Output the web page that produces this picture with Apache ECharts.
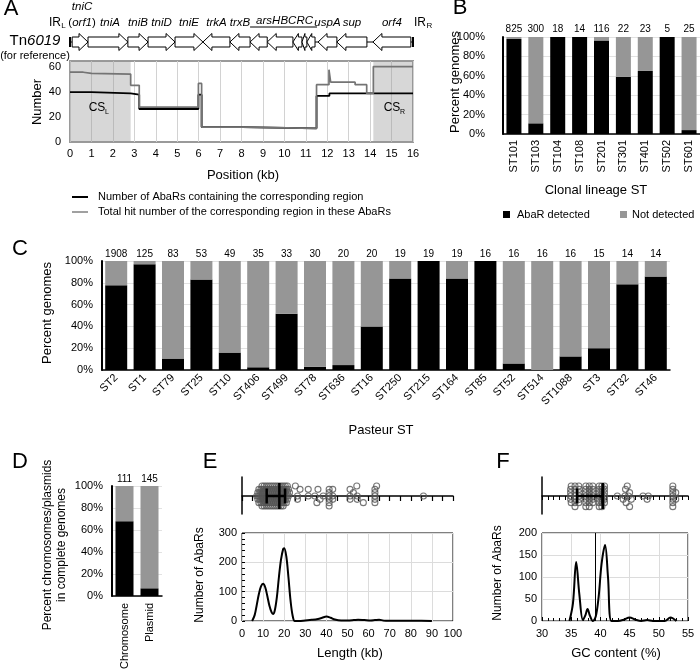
<!DOCTYPE html>
<html><head><meta charset="utf-8">
<script src="https://cdn.jsdelivr.net/npm/echarts/dist/echarts.min.js"></script>
<style>html,body{margin:0;padding:0;background:#fff}#c{width:700px;height:670px}</style>
</head><body><div id="c"></div>
<script>
const FONT = 'Liberation Sans, Arial, Helvetica, sans-serif';

// ---------- Panel A : gene map (kb) ----------
const geneStart  = [0.10, 0.84, 2.70, 3.64, 4.90, 6.20, 7.46, 8.40, 9.20, 10.40, 10.82, 11.05, 11.57, 12.45, 14.13];
const geneEnd    = [0.84, 2.70, 3.64, 4.90, 6.20, 7.46, 8.40, 9.20, 10.40, 10.82, 11.05, 11.43, 12.45, 13.85, 15.90];
const geneStrand = [1, 1, 1, 1, 1, -1, -1, -1, -1, -1, -1, -1, -1, -1, -1];
const geneLabels = ['tniC', 'tniA', 'tniB', 'tniD', 'tniE', 'trkA', 'trxB', '', '', '', '', '', 'uspA', 'sup', 'orf4'];
const arsLabel = 'arsHBCRC';
const arsSpan = [8.40, 11.43];

// ---------- Panel A : coverage step lines ----------
const posCount = [0, 1.0, 2.83, 3.23, 5.99, 6.14, 8.05, 11.5, 12.1, 16];
const numCount = [40, 39, 38, 26.5, 38, 12, 11, 37, 39, 39];
const posHits  = [0, 0.62, 1.0, 2.83, 3.23, 5.99, 6.14, 8.05, 11.5, 12.08, 12.16, 13.3, 13.84, 14.15, 16];
const numHits  = [56, 55, 54.5, 45.5, 28, 47, 12, 11, 46, 58, 48, 46, 39, 60.5, 60.5];
const csLeft  = [0, 2.83];
const csRight = [14.15, 16];

// ---------- Panel B ----------
const bCats = ['ST101', 'ST103', 'ST104', 'ST108', 'ST201', 'ST301', 'ST401', 'ST502', 'ST601'];
const bN    = [825, 300, 18, 14, 116, 22, 23, 5, 25];
const bPct  = [98, 11, 100, 100, 96.5, 59, 65, 100, 4];

// ---------- Panel C ----------
const cCats = ['ST2', 'ST1', 'ST79', 'ST25', 'ST10', 'ST406', 'ST499', 'ST78', 'ST636', 'ST16', 'ST250', 'ST215', 'ST164', 'ST85', 'ST52', 'ST514', 'ST1088', 'ST3', 'ST32', 'ST46'];
const cN    = [1908, 125, 83, 53, 49, 35, 33, 30, 20, 20, 19, 19, 19, 16, 16, 16, 16, 15, 14, 14];
const cPct  = [77.7, 97, 10.5, 83, 16, 2.5, 51.5, 3, 4.5, 40, 84, 100, 84, 100, 6, 0, 12.5, 20, 78.6, 85.7];

// ---------- Panel D ----------
const dCats = ['Chromosome', 'Plasmid'];
const dN    = [111, 145];
const dPct  = [68, 7];

// ---------- Panel E : length ----------
const lenX = [4.8, 6, 7, 8, 9, 10, 11, 12, 13, 14, 14.7, 15.5, 16.5, 17.5, 18.5, 19.5, 20, 21, 22, 23, 24, 25, 27, 30, 33, 36, 38, 40, 42, 44, 47, 50, 53, 55, 58, 61, 63, 65, 67, 70, 75, 80, 85, 90];
const lenY = [0, 20, 55, 92, 118, 127, 115, 85, 52, 30, 24, 35, 80, 150, 210, 245, 248, 220, 150, 70, 18, 0, 0, 2, 4, 7, 11, 15, 11, 5, 2, 2, 3, 4, 3, 2, 3, 4, 2, 1, 0.5, 0.5, 0.5, 0];
const lenRange = [11.7, 20.4];
const lenMid = 17.7;
const lenDotsP3 = [9.5, 10.5, 11.5, 12.5, 13.5, 14.5, 15.5, 16.5, 17.5, 18.5, 19.5, 20.5, 21.5, 25.3, 54.4, 63.8];
const lenDotsP2 = [8, 9, 10, 11, 12, 13, 14, 15, 16, 17, 18, 19, 20, 21, 22, 27.5, 31.4, 36, 41.3, 43, 51.2, 63];
const lenDotsP1 = [7.5, 8.5, 9.5, 10.5, 11.5, 12.5, 13.5, 14.5, 15.5, 16.5, 17.5, 18.5, 19.5, 20.5, 21.5, 22.5, 41.3, 52.8, 63];
const lenDots0  = [7, 8, 9, 10, 11, 12, 13, 14, 15, 16, 17, 18, 19, 20, 21, 22, 26.3, 31.4, 34.5, 38.5, 41.3, 43, 51.2, 54.6, 63, 86];
const lenDotsM1 = [7.5, 8.5, 9.5, 10.5, 11.5, 12.5, 13.5, 14.5, 15.5, 16.5, 17.5, 18.5, 19.5, 20.5, 21.5, 26.3, 37, 41.3, 43, 51.2, 54.6, 63];
const lenDotsM2 = [8, 9, 10, 11, 12, 13, 14, 15, 16, 17, 18, 19, 20, 21, 35.5, 41.3, 57.5, 63];
const lenDotsM3 = [9.5, 10.5, 11.5, 12.5, 13.5, 14.5, 15.5, 16.5, 17.5, 18.5, 19.5, 41.3];

// ---------- Panel F : GC content ----------
const gcX = [34.7, 35.3, 35.85, 36.4, 37.0, 37.4, 37.8, 38.2, 38.7, 39.2, 39.7, 40.2, 40.8, 41.3, 41.9, 43, 44, 45, 46, 47, 48, 49, 51, 52, 53];
const gcY = [0, 40, 134, 60, 2, 12, 27, 12, 0, 10, 55, 130, 173, 100, 0, 0, 3, 8, 3, 0, 2, 0, 0, 8, 0];
const gcRange = [36.0, 40.4];
const gcMid = 40.4;
const gcRefLine = 39.1;
const gcDotsP3 = [35.0, 35.65, 36.3, 37.5, 38.1, 38.7, 39.8, 40.25, 40.7, 44.6, 52.4];
const gcDotsP2 = [34.9, 35.65, 36.4, 37.5, 38.1, 38.7, 39.8, 40.25, 40.7, 44.3, 52.4];
const gcDotsP1 = [34.9, 35.65, 36.4, 37.5, 38.1, 38.7, 39.8, 40.25, 40.7, 45.0, 52.4, 52.9];
const gcDots0  = [34.9, 35.65, 36.4, 37.5, 38.1, 38.7, 39.8, 40.25, 40.7, 42.9, 44.2, 44.8, 47.3, 48.2, 52.4];
const gcDotsM1 = [34.9, 35.65, 36.4, 37.5, 38.1, 38.7, 39.8, 40.25, 40.7, 43.9, 45.3, 48.0, 52.4, 52.9];
const gcDotsM2 = [35.0, 35.65, 36.3, 37.5, 38.1, 38.7, 39.8, 40.25, 40.7, 44.4, 52.4];
const gcDotsM3 = [35.65, 37.5, 38.1, 39.8, 40.25, 45.0, 52.4];

// ---------- helpers ----------
function rows(list) {
  const out = [];
  list.forEach(function (r) { r[0].forEach(function (v) { out.push([v, r[1]]); }); });
  return out;
}
const lenDots = rows([[lenDotsP3, 3], [lenDotsP2, 2], [lenDotsP1, 1], [lenDots0, 0], [lenDotsM1, -1], [lenDotsM2, -2], [lenDotsM3, -3]]);
const gcDots  = rows([[gcDotsP3, 3], [gcDotsP2, 2], [gcDotsP1, 1], [gcDots0, 0], [gcDotsM1, -1], [gcDotsM2, -2], [gcDotsM3, -3.2]]);

const BLACK = '#000000', GREY = '#969696';
const graphics = [];
function txt(text, x, y, size, o) {
  o = o || {};
  graphics.push({
    type: 'text', x: x, y: y, rotation: o.rot || 0, z: 100, silent: true,
    style: {
      text: text, fontSize: size, fontFamily: FONT, fontStyle: o.italic ? 'italic' : 'normal',
      fill: o.color || '#000', align: o.align || 'center', verticalAlign: o.va || 'middle',
      textAlign: o.align || 'center', textVerticalAlign: o.va || 'middle',
      lineHeight: o.lh, rich: o.rich
    }
  });
}
function line(x1, y1, x2, y2, color, w) {
  graphics.push({ type: 'line', z: 100, silent: true, shape: { x1: x1, y1: y1, x2: x2, y2: y2 }, style: { stroke: color, lineWidth: w } });
}
function rect(x, y, w, h, color) {
  graphics.push({ type: 'rect', z: 100, silent: true, shape: { x: x, y: y, width: w, height: h }, style: { fill: color } });
}
const R90 = Math.PI / 2;

// panel letters
txt('A', 11, 9, 22); txt('B', 460, 8, 22); txt('C', 20, 249, 22);
txt('D', 20, 462, 22); txt('E', 210, 462, 22); txt('F', 503, 462, 22);
// panel A texts
txt('{n|Tn}{i|6019}', 35, 41, 15, { rich: { n: { fontSize: 15, fontFamily: FONT }, i: { fontSize: 15, fontFamily: FONT, fontStyle: 'italic' } } });
txt('(for reference)', 35, 56, 11);
txt('IR', 55, 23, 12); txt('L', 63.5, 26, 8);
txt('IR', 420, 23, 12); txt('R', 429.5, 26, 8);
txt('CS', 97, 108, 12); txt('L', 107, 112, 7);
txt('CS', 392, 108, 12); txt('R', 402.5, 112, 7);
txt('Number', 37, 102, 13, { rot: R90 });
txt('Position (kb)', 243, 175, 13);
line(72, 197, 88, 197, '#000', 2);
line(72, 212, 88, 212, '#808080', 1.5);
txt('Number of AbaRs containing the corresponding region', 98, 197, 11, { align: 'left' });
txt('Total hit number of the corresponding region in these AbaRs', 98, 212, 11, { align: 'left' });
// panel B texts
txt('Percent genomes', 455, 82, 13, { rot: R90 });
txt('Clonal lineage ST', 596, 190, 13);
rect(503, 211, 7, 7, BLACK); txt('AbaR detected', 517, 215, 11, { align: 'left' });
rect(620, 211, 7, 7, GREY); txt('Not detected', 632, 215, 11, { align: 'left' });
// panel C texts
txt('Percent genomes', 47, 313, 13, { rot: R90 });
txt('Pasteur ST', 381, 430, 13);
// panel D
txt('Percent chromosomes/plasmids\nin complete genomes', 55, 545, 12, { rot: R90, lh: 14 });
// panel E
txt('Number of AbaRs', 200, 575, 12, { rot: R90 });
txt('Length (kb)', 350, 653, 13);
// panel F
txt('Number of AbaRs', 498, 573, 12, { rot: R90 });
txt('GC content (%)', 616, 653, 13);

// ---------- render functions ----------
function geneRender(params, api) {
  const i = params.dataIndex;
  const s = api.value(0), e = api.value(1), dir = api.value(2);
  const p1 = api.coord([s, 0.5]), p2 = api.coord([e, 0.5]);
  const yc = p1[1], bh = 5, hh = 8.5;
  const x1 = p1[0], x2 = p2[0];
  const hl = Math.min(9, (x2 - x1) * 0.6);
  let pts;
  if (dir > 0) pts = [[x1, yc - bh], [x2 - hl, yc - bh], [x2 - hl, yc - hh], [x2, yc], [x2 - hl, yc + hh], [x2 - hl, yc + bh], [x1, yc + bh]];
  else pts = [[x2, yc - bh], [x1 + hl, yc - bh], [x1 + hl, yc - hh], [x1, yc], [x1 + hl, yc + hh], [x1 + hl, yc + bh], [x2, yc + bh]];
  const children = [{ type: 'polygon', shape: { points: pts }, style: { fill: '#fff', stroke: '#000', lineWidth: 1 } }];
  const lab = geneLabels[i];
  const rich = { i: { fontSize: 11.5, fontFamily: FONT, fontStyle: 'italic', lineHeight: 16 }, n: { fontSize: 11.5, fontFamily: FONT, lineHeight: 16 } };
  if (lab) {
    const t = (i === 0) ? '{i|' + lab + '}\n{n|(}{i|orf1}{n|)}' : '{i|' + lab + '}';
    children.push({
      type: 'text', x: (x1 + x2) / 2 + (i === 0 ? 2 : (i === 1 ? 2 : 0)), y: (i === 0) ? yc - 27 : yc - 19,
      style: { text: t, rich: rich, fontSize: 11.5, fontFamily: FONT, align: 'center', verticalAlign: 'middle', textAlign: 'center', textVerticalAlign: 'middle', fill: '#000' }
    });
  }
  return { type: 'group', children: children };
}
function arsRender(params, api) {
  const a = api.coord([api.value(0), 0.5]), b = api.coord([api.value(1), 0.5]);
  const yc = a[1];
  return {
    type: 'group', children: [
      { type: 'line', shape: { x1: a[0], y1: yc - 15, x2: b[0] + 2, y2: yc - 15 }, style: { stroke: '#000', lineWidth: 1 } },
      { type: 'text', x: (a[0] + b[0]) / 2 + 2, y: yc - 21, style: { text: arsLabel, fontSize: 11.5, fontFamily: FONT, fontStyle: 'italic', fill: '#000', align: 'center', verticalAlign: 'middle', textAlign: 'center', textVerticalAlign: 'middle' } }
    ]
  };
}
function backboneRender(params, api) {
  const a = api.coord([api.value(0), 0.5]), b = api.coord([api.value(1), 0.5]);
  const yc = a[1];
  return {
    type: 'group', children: [
      { type: 'line', shape: { x1: a[0], y1: yc, x2: b[0], y2: yc }, style: { stroke: '#000', lineWidth: 1 } },
      { type: 'line', shape: { x1: a[0], y1: yc - 5, x2: a[0], y2: yc + 5 }, style: { stroke: '#000', lineWidth: 2 } },
      { type: 'line', shape: { x1: b[0], y1: yc - 5, x2: b[0], y2: yc + 5 }, style: { stroke: '#000', lineWidth: 2 } }
    ]
  };
}
function errRender(params, api) {
  const a = api.coord([api.value(0), 0]), b = api.coord([api.value(1), 0]), m = api.coord([api.value(2), 0]);
  const y = a[1];
  const st = { stroke: '#000', lineWidth: 2.5 };
  return {
    type: 'group', children: [
      { type: 'line', shape: { x1: a[0], y1: y, x2: b[0], y2: y }, style: st },
      { type: 'line', shape: { x1: a[0], y1: y - 7.5, x2: a[0], y2: y + 7.5 }, style: st },
      { type: 'line', shape: { x1: b[0], y1: y - 7.5, x2: b[0], y2: y + 7.5 }, style: st },
      { type: 'line', shape: { x1: m[0], y1: y - 13, x2: m[0], y2: y + 13 }, style: st }
    ]
  };
}

function zip(a, b) { return a.map(function (v, i) { return [v, b[i]]; }); }

const grids = [
  { left: 70, top: 33, width: 343, height: 18 },
  { left: 70, top: 61, width: 343, height: 81, show: true, borderColor: '#9a9a9a', borderWidth: 2 },
  { left: 503, top: 37, width: 197, height: 97 },
  { left: 102, top: 261, width: 568, height: 109 },
  { left: 112, top: 486, width: 50, height: 110 },
  { left: 242, top: 477, width: 211, height: 37 },
  { left: 242, top: 533, width: 211, height: 88, show: true, borderColor: '#000', borderWidth: 1 },
  { left: 542, top: 477, width: 146, height: 37 },
  { left: 542, top: 533, width: 146, height: 88, show: true, borderColor: '#000', borderWidth: 1 }
].map(function (g) { g.containLabel = false; g.outerBoundsMode = 'none'; return g; });

const lbl = { fontFamily: FONT, fontSize: 11, color: '#000' };
const noAxis = { show: false };
const gridLine = { show: true, lineStyle: { color: '#dcdcdc', width: 1 } };

function pctAxis(gi, margin) {
  return {
    type: 'value', gridIndex: gi, min: 0, max: 100, interval: 20,
    axisLine: { show: true, lineStyle: { color: '#000', width: 2 } },
    axisTick: { show: false },
    axisLabel: Object.assign({ formatter: '{value}%', margin: margin }, lbl),
    splitLine: { show: true, lineStyle: { color: '#e2e2e2' } }
  };
}
function catAxis(gi, cats, rot, margin) {
  return {
    type: 'category', gridIndex: gi, data: cats,
    axisLine: { show: true, lineStyle: { color: '#000', width: 1.5 } },
    axisTick: { show: false },
    axisLabel: Object.assign({ rotate: rot, interval: 0, margin: margin }, lbl)
  };
}

const xAxis = [
  { type: 'value', gridIndex: 0, min: 0, max: 16, show: false },
  { type: 'value', gridIndex: 1, min: 0, max: 16, interval: 1, axisLine: noAxis, axisTick: noAxis,
    axisLabel: Object.assign({ margin: 6 }, lbl), splitLine: { show: true, lineStyle: { color: '#d2d2d2' } } },
  catAxis(2, bCats, 90, 6),
  catAxis(3, cCats, 45, 6),
  catAxis(4, dCats, 90, 7),
  { type: 'value', gridIndex: 5, min: 0, max: 100, interval: 5,
    axisLine: { show: true, lineStyle: { color: '#000', width: 1.5 } },
    axisTick: { show: true, length: 5, lineStyle: { color: '#000', width: 1.2 } }, axisLabel: noAxis, splitLine: noAxis },
  { type: 'value', gridIndex: 6, min: 0, max: 100, interval: 10, axisLine: noAxis, axisTick: noAxis,
    axisLabel: Object.assign({ margin: 7 }, lbl), splitLine: gridLine },
  { type: 'value', gridIndex: 7, min: 30, max: 55, interval: 1,
    axisLine: { show: true, lineStyle: { color: '#000', width: 1.5 } },
    axisTick: { show: true, length: 4, lineStyle: { color: '#000', width: 1 } }, axisLabel: noAxis, splitLine: noAxis },
  { type: 'value', gridIndex: 8, min: 30, max: 55, interval: 5, axisLine: noAxis,
    axisTick: { show: true, inside: true, length: 4, lineStyle: { color: '#000' } },
    minorTick: { show: true, splitNumber: 5, length: 3, lineStyle: { color: '#000' } },
    axisLabel: Object.assign({ margin: 7 }, lbl), splitLine: gridLine }
];

const yAxis = [
  { type: 'value', gridIndex: 0, min: 0, max: 1, show: false },
  { type: 'value', gridIndex: 1, min: 0, max: 65, interval: 20, axisLine: noAxis, axisTick: noAxis,
    axisLabel: Object.assign({ margin: 9, formatter: function (v) { return v % 20 === 0 ? v : ''; } }, lbl),
    splitLine: noAxis },
  pctAxis(2, 18),
  pctAxis(3, 9),
  pctAxis(4, 9),
  { type: 'value', gridIndex: 5, min: -5.4, max: 5.7, axisLine: { show: true, lineStyle: { color: '#000', width: 1.5 } },
    axisTick: noAxis, axisLabel: noAxis, splitLine: noAxis },
  { type: 'value', gridIndex: 6, min: 0, max: 300, interval: 100, axisLine: noAxis,
    axisTick: { show: true, inside: true, length: 3, lineStyle: { color: '#000' } },
    minorTick: { show: true, splitNumber: 5, length: 3, lineStyle: { color: '#000' } },
    axisLabel: Object.assign({ margin: 5 }, lbl), splitLine: gridLine },
  { type: 'value', gridIndex: 7, min: -5.4, max: 5.7, axisLine: { show: true, lineStyle: { color: '#000', width: 1.5 } },
    axisTick: noAxis, axisLabel: noAxis, splitLine: noAxis },
  { type: 'value', gridIndex: 8, min: 0, max: 200, interval: 50, axisLine: noAxis, axisTick: noAxis,
    axisLabel: Object.assign({ margin: 5 }, lbl), splitLine: gridLine }
];

function stackedBars(ai, pct, counts, bw, dist) {
  return [
    { type: 'bar', xAxisIndex: ai, yAxisIndex: ai, stack: 's' + ai, data: pct, barWidth: bw,
      itemStyle: { color: BLACK }, silent: true },
    { type: 'bar', xAxisIndex: ai, yAxisIndex: ai, stack: 's' + ai, data: pct.map(function (v) { return 100 - v; }), barWidth: bw,
      itemStyle: { color: GREY }, silent: true,
      label: { show: true, position: 'top', distance: dist, fontFamily: FONT, fontSize: 10, color: '#000',
        formatter: function (p) { return String(counts[p.dataIndex]); } } }
  ];
}

const dotStyle = { color: 'rgba(255,255,255,0)', borderColor: '#555555', borderWidth: 1.1 };

const series = [
  { type: 'custom', xAxisIndex: 0, yAxisIndex: 0, renderItem: backboneRender, data: [[0, 16, 0.5]], encode: { x: [0, 1], y: 2 }, clip: false, silent: true, z: 1 },
  { type: 'custom', xAxisIndex: 0, yAxisIndex: 0, renderItem: geneRender,
    data: geneStart.map(function (s, i) { return [s, geneEnd[i], geneStrand[i], 0.5]; }), encode: { x: [0, 1], y: 3 }, clip: false, silent: true, z: 3 },
  { type: 'custom', xAxisIndex: 0, yAxisIndex: 0, renderItem: arsRender, data: [[arsSpan[0], arsSpan[1], 0.5]], encode: { x: [0, 1], y: 2 }, clip: false, silent: true, z: 3 },
  { type: 'line', xAxisIndex: 1, yAxisIndex: 1, step: 'end', data: zip(posCount, numCount), showSymbol: false, symbol: 'none',
    lineStyle: { color: '#000', width: 1.8 }, silent: true, z: 3,
    markArea: { silent: true, itemStyle: { color: 'rgba(150,150,150,0.38)' },
      data: [[{ xAxis: csLeft[0] }, { xAxis: csLeft[1] }], [{ xAxis: csRight[0] }, { xAxis: csRight[1] }]] } },
  { type: 'line', xAxisIndex: 1, yAxisIndex: 1, step: 'end', data: zip(posHits, numHits), showSymbol: false, symbol: 'none',
    lineStyle: { color: '#747474', width: 1.7 }, silent: true, z: 4 }
].concat(stackedBars(2, bPct, bN, 15, 3))
 .concat(stackedBars(3, cPct, cN, 22, 2))
 .concat(stackedBars(4, dPct, dN, 18, 2))
 .concat([
  { type: 'scatter', xAxisIndex: 5, yAxisIndex: 5, data: lenDots, symbol: 'circle', symbolSize: 6, silent: true, itemStyle: dotStyle },
  { type: 'custom', xAxisIndex: 5, yAxisIndex: 5, renderItem: errRender, data: [[lenRange[0], lenRange[1], lenMid, 0]], encode: { x: [0, 1, 2], y: 3 }, clip: false, silent: true, z: 5 },
  { type: 'line', xAxisIndex: 6, yAxisIndex: 6, data: zip(lenX, lenY), smooth: 0.35, showSymbol: false, symbol: 'none',
    lineStyle: { color: '#000', width: 2 }, silent: true },
  { type: 'scatter', xAxisIndex: 7, yAxisIndex: 7, data: gcDots, symbol: 'circle', symbolSize: 6, silent: true, itemStyle: dotStyle },
  { type: 'custom', xAxisIndex: 7, yAxisIndex: 7, renderItem: errRender, data: [[gcRange[0], gcRange[1], gcMid, 0]], encode: { x: [0, 1, 2], y: 3 }, clip: false, silent: true, z: 5 },
  { type: 'line', xAxisIndex: 8, yAxisIndex: 8, data: zip(gcX, gcY), smooth: 0.35, showSymbol: false, symbol: 'none',
    lineStyle: { color: '#000', width: 2 }, silent: true,
    markLine: { silent: true, symbol: 'none', label: { show: false }, lineStyle: { color: '#000', width: 1, type: 'solid' },
      data: [{ xAxis: gcRefLine }] } }
]);

const chart = echarts.init(document.getElementById('c'), null, { renderer: 'canvas' });
chart.setOption({
  animation: false,
  backgroundColor: '#fff',
  textStyle: { fontFamily: FONT },
  grid: grids, xAxis: xAxis, yAxis: yAxis, series: series, graphic: graphics
});
</script></body></html>
